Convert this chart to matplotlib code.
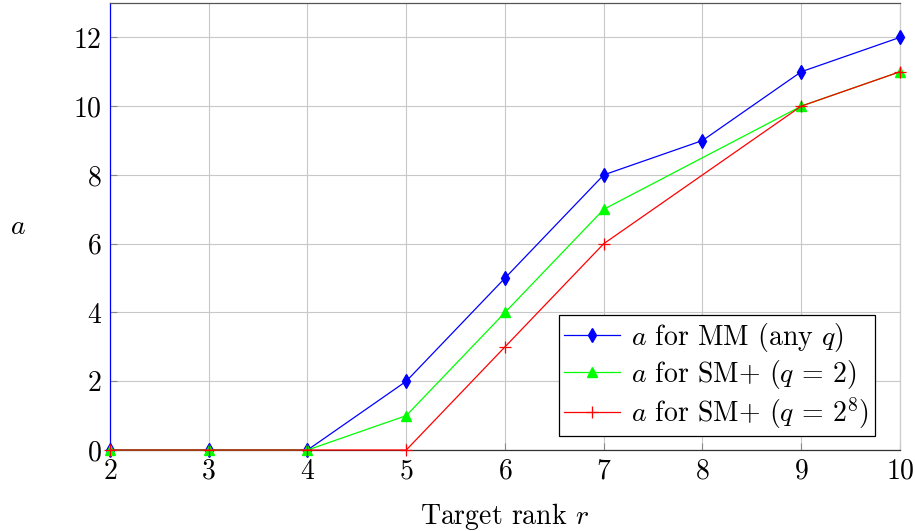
import matplotlib
matplotlib.use("Agg")
import matplotlib.pyplot as plt

plt.rcParams['font.family'] = 'serif'
plt.rcParams['font.serif'] = ['cmr10']
plt.rcParams['mathtext.fontset'] = 'cm'
plt.rcParams['axes.formatter.use_mathtext'] = True

ranks = [2, 3, 4, 5, 6, 7, 8, 9, 10]
a_mm = [0, 0, 0, 2, 5, 8, 9, 11, 12]

ranks_sm = [2, 3, 4, 5, 6, 7, 9, 10]
a_sm_q2 = [0, 0, 0, 1, 4, 7, 10, 11]
a_sm_q256 = [0, 0, 0, 0, 3, 6, 10, 11]

fig = plt.figure(figsize=(9.15, 5.31), dpi=100)
ax = fig.add_axes([0.1202, 0.1525, 0.8634, 0.8419])

ax.plot(ranks, a_mm, color='blue', marker='d', markersize=7, linewidth=0.9,
        label=r'$a$ for MM (any $q$)', zorder=3, clip_on=False)
ax.plot(ranks_sm, a_sm_q2, color='#00ff00', marker='^', markersize=7, linewidth=0.9,
        label=r'$a$ for SM+ ($q$ = 2)', zorder=3, clip_on=False)
ax.plot(ranks_sm, a_sm_q256, color='red', marker='+', markersize=9, markeredgewidth=0.9,
        linewidth=0.9, label=r'$a$ for SM+ ($q$ = $2^8$)', zorder=4, clip_on=False)

ax.set_xlim(2, 10)
ax.set_ylim(0, 13)
ax.set_xticks(range(2, 11))
ax.set_yticks(range(0, 13, 2))
ax.grid(True, color='#c8c8c8', linewidth=0.8)
ax.set_axisbelow(True)
ax.tick_params(direction='in', length=5, color='#888888', labelsize=20, pad=6)

ax.spines['left'].set_color('blue')
ax.spines['right'].set_color('#cccccc')
ax.spines['top'].set_color('#555555')
ax.spines['bottom'].set_color('#333333')
for s in ax.spines.values():
    s.set_linewidth(0.9)

ax.set_xlabel(r'Target rank $r$', fontsize=20, labelpad=12)
ax.set_ylabel(r'$a$', fontsize=20, rotation=0, va='center', ha='center')
ax.yaxis.set_label_coords(-0.116, 0.5)

leg = ax.legend(loc='lower right', bbox_to_anchor=(0.968, 0.031), fontsize=20,
                fancybox=False, framealpha=1, edgecolor='black', handlelength=2.0,
                borderpad=0.2, labelspacing=0.15, handletextpad=0.4,
                borderaxespad=0)
leg.get_frame().set_linewidth(0.9)

fig.savefig('out.png', dpi=100)
